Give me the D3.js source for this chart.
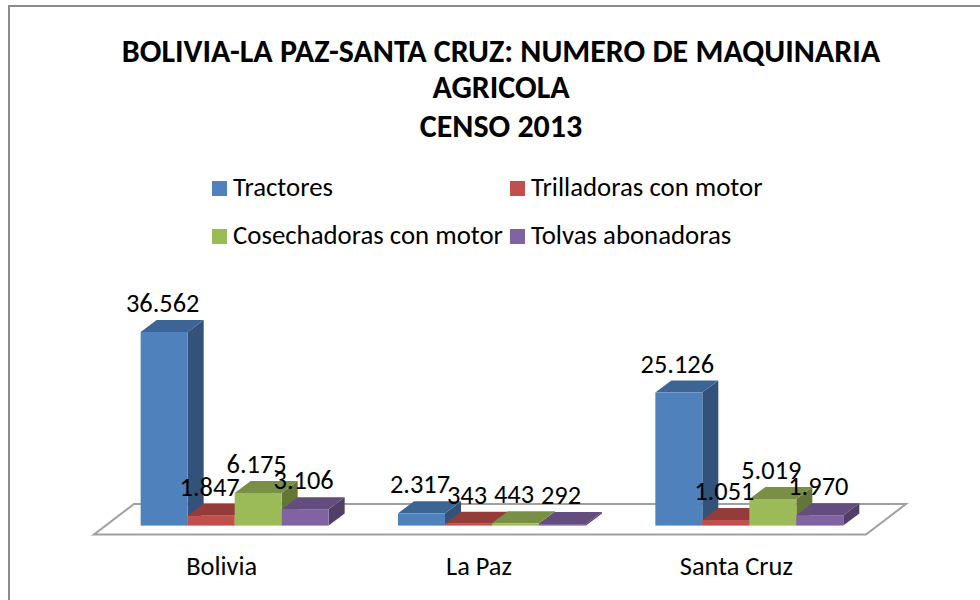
<!DOCTYPE html>
<html><head><meta charset="utf-8">
<script src="https://cdn.jsdelivr.net/npm/d3@7/dist/d3.min.js"></script>
<style>html,body{margin:0;padding:0;background:#fff}svg{display:block}text{font-family:Carlito,Calibri,"Open Sans","Noto Sans",sans-serif;fill:#000}</style>
</head><body><svg id="c" width="980" height="600"></svg>
<script>
const titleLines=["BOLIVIA-LA PAZ-SANTA CRUZ: NUMERO DE MAQUINARIA","AGRICOLA","CENSO 2013"];
const categories=["Bolivia","La Paz","Santa Cruz"];
const seriesNames=["Tractores","Trilladoras con motor","Cosechadoras con motor","Tolvas abonadoras"];
const tractores=[36562,2317,25126];
const trilladoras=[1847,343,1051];
const cosechadoras=[6175,443,5019];
const tolvas=[3106,292,1970];
const seriesValues=[tractores,trilladoras,cosechadoras,tolvas];
const valueLabels=[["36.562","2.317","25.126"],["1.847","343","1.051"],["6.175","443","5.019"],["3.106","292","1.970"]];
const front=["#4f81bd","#c0504d","#9bbb59","#8064a2"];
const topC=["#3c6494","#943c3a","#788f45","#634c7e"];
const side=["#325279","#7a322f","#637638","#523f68"];

const svg=d3.select("#c");
svg.append("rect").attr("x",9).attr("y",6).attr("width",1000).attr("height",700).attr("fill","#fff").attr("stroke","#8c8c8c").attr("stroke-width",2);

titleLines.forEach((t,i)=>svg.append("text").attr("x",501).attr("y",[62,98,137][i]).attr("text-anchor","middle").attr("font-size",32).attr("font-weight",700).text(t));

const legendX=[212,510,212,510],legendY=[188,188,236,236];
seriesNames.forEach((n,i)=>{
 svg.append("rect").attr("x",legendX[i]).attr("y",legendY[i]-7).attr("width",15).attr("height",15).attr("fill",front[i]);
 svg.append("text").attr("x",legendX[i]+21).attr("y",legendY[i]+8).attr("font-size",26.8).text(n);
});

const floorFrontY=534.5,floorBackY=504,floorSkew=40;
const x=d3.scaleBand().domain(categories).range([94,866]);
const y=d3.scaleLinear().domain([0,36562]).range([525.6,332]);
const barW=47,dx=16,dy=12,floorInset=12;
const inner=d3.scaleBand().domain(d3.range(4)).range([0,barW*4]);

svg.append("path").attr("d",`M${x.range()[0]},${floorFrontY}L${x.range()[1]},${floorFrontY}L${x.range()[1]+floorSkew},${floorBackY}L${x.range()[0]+floorSkew},${floorBackY}Z`)
 .attr("fill","#fff").attr("stroke","#a0a0a0").attr("stroke-width",2);

const pad=(x.bandwidth()-barW*4)/2;
categories.forEach((c,ci)=>{
 const x0=x(c)+floorInset+pad;
 seriesValues.forEach((vals,si)=>{
  const l=x0+inner(si),r=l+barW,b=y(0),t=y(vals[ci]);
  const g=svg.append("g");
  g.append("path").attr("d",`M${r},${b}L${r+dx},${b-dy}L${r+dx},${t-dy}L${r},${t}Z`).attr("fill",side[si]);
  g.append("path").attr("d",`M${l},${t}L${l+dx},${t-dy}L${r+dx},${t-dy}L${r},${t}Z`).attr("fill",topC[si]);
  g.append("rect").attr("x",l).attr("y",t).attr("width",barW).attr("height",b-t).attr("fill",front[si]);
 });
});
categories.forEach((c,ci)=>{
 const x0=x(c)+floorInset+pad;
 seriesValues.forEach((vals,si)=>{
  svg.append("text").attr("x",x0+inner(si)+barW/2-1.5).attr("y",y(vals[ci])-dy-8)
   .attr("text-anchor","middle").attr("font-size",26.4).text(valueLabels[si][ci]);
 });
 svg.append("text").attr("x",x(c)+x.bandwidth()/2-1).attr("y",575).attr("text-anchor","middle").attr("font-size",26.4).text(c);
});
</script></body></html>
